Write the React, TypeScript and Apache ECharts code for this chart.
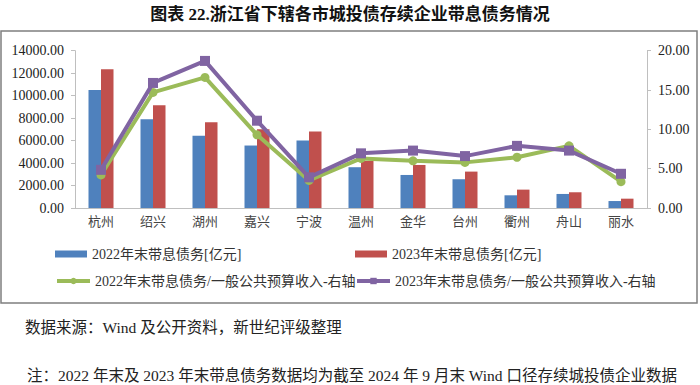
import React, { useEffect, useRef } from "react";
import * as echarts from "echarts";

const cities = ["杭州", "绍兴", "湖州", "嘉兴", "宁波", "温州", "金华", "台州", "衢州", "舟山", "丽水"];
const debt2022 = [10500, 7900, 6420, 5560, 6000, 3630, 2940, 2560, 1130, 1250, 620];
const debt2023 = [12350, 9150, 7640, 7020, 6810, 4190, 3830, 3240, 1635, 1400, 830];
const ratio2022 = [4.2, 14.7, 16.6, 9.3, 3.5, 6.3, 6.0, 5.8, 6.45, 7.9, 3.35];
const ratio2023 = [4.85, 15.9, 18.7, 11.1, 3.9, 6.95, 7.3, 6.6, 7.9, 7.3, 4.35];
const seriesNames = [
  "2022年末带息债务[亿元]",
  "2023年末带息债务[亿元]",
  "2022年末带息债务/一般公共预算收入-右轴",
  "2023年末带息债务/一般公共预算收入-右轴",
];
const titleText = "图表 22.浙江省下辖各市城投债存续企业带息债务情况";
const sourceText = "数据来源：Wind 及公开资料，新世纪评级整理";
const noteText = "注：2022 年末及 2023 年末带息债务数据均为截至 2024 年 9 月末 Wind 口径存续城投债企业数据";

const FONT = '"Liberation Serif", "Noto Sans CJK SC", serif';

export default function App() {
  const ref = useRef<HTMLDivElement>(null);
  useEffect(() => {
    if (!ref.current) return;
    const chart = echarts.init(ref.current, null, { renderer: "svg" });
    const legendText = { fontFamily: FONT, fontSize: 14, color: "#333" };
    const legendBase = { padding: 0, textStyle: legendText };
    chart.setOption({
      animation: false,
      backgroundColor: "#fff",
      textStyle: { fontFamily: FONT },
      grid: { left: 75, right: 53, top: 50.7, bottom: 177 },
      xAxis: {
        type: "category",
        data: cities,
        axisLine: { show: true, lineStyle: { color: "#bfbfbf", width: 1 } },
        axisTick: { show: false },
        axisLabel: { fontFamily: FONT, fontSize: 13, color: "#444", margin: 7 },
      },
      yAxis: [
        {
          type: "value",
          min: 0,
          max: 14000,
          interval: 2000,
          splitLine: { show: false },
          axisLine: { show: true, lineStyle: { color: "#bfbfbf" } },
          axisTick: { show: true, length: 4, lineStyle: { color: "#bfbfbf" } },
          axisLabel: {
            fontFamily: FONT,
            fontSize: 14,
            color: "#222",
            margin: 11,
            formatter: (v: number) => v.toFixed(2),
          },
        },
        {
          type: "value",
          min: 0,
          max: 20,
          interval: 5,
          position: "right",
          splitLine: { show: false },
          axisLine: { show: true, lineStyle: { color: "#bfbfbf" } },
          axisTick: { show: true, length: 4, lineStyle: { color: "#bfbfbf" } },
          axisLabel: {
            fontFamily: FONT,
            fontSize: 14,
            color: "#222",
            margin: 11,
            formatter: (v: number) => v.toFixed(2),
          },
        },
      ],
      legend: [
        {
          ...legendBase,
          data: [seriesNames[0]],
          left: 55,
          top: 247,
          itemWidth: 32,
          itemHeight: 7,
          icon: "rect",
        },
        {
          ...legendBase,
          data: [seriesNames[1]],
          left: 355,
          top: 247,
          itemWidth: 32,
          itemHeight: 7,
          icon: "rect",
        },
        {
          ...legendBase,
          data: [seriesNames[2]],
          left: 55,
          top: 274,
          itemWidth: 33,
          itemHeight: 8,
          lineStyle: { width: 4 },
        },
        {
          ...legendBase,
          data: [seriesNames[3]],
          left: 355,
          top: 274,
          itemWidth: 33,
          itemHeight: 8,
          lineStyle: { width: 4 },
        },
      ],
      series: [
        {
          name: seriesNames[0],
          type: "bar",
          data: debt2022,
          barWidth: 12.5,
          barGap: "0%",
          itemStyle: { color: "#4F81BD" },
        },
        {
          name: seriesNames[1],
          type: "bar",
          data: debt2023,
          barWidth: 12.5,
          barGap: "0%",
          itemStyle: { color: "#C0504D" },
        },
        {
          name: seriesNames[2],
          type: "line",
          yAxisIndex: 1,
          data: ratio2022,
          symbol: "circle",
          symbolSize: 9,
          lineStyle: { color: "#9BBB59", width: 4 },
          itemStyle: { color: "#9BBB59" },
          z: 3,
        },
        {
          name: seriesNames[3],
          type: "line",
          yAxisIndex: 1,
          data: ratio2023,
          symbol: "rect",
          symbolSize: 10,
          lineStyle: { color: "#8064A2", width: 4 },
          itemStyle: { color: "#8064A2" },
          z: 4,
        },
      ],
      graphic: [
        {
          type: "text",
          left: "center",
          top: 6,
          style: {
            text: titleText,
            font: 'bold 17px "Liberation Serif", "Noto Sans CJK SC", serif',
            fill: "#111",
          },
        },
        {
          type: "rect",
          shape: { x: 1, y: 31, width: 696, height: 272 },
          style: { fill: "none", stroke: "#7f7f7f", lineWidth: 1.5 },
          silent: true,
        },
        {
          type: "text",
          x: 25,
          y: 320,
          style: {
            text: sourceText,
            font: '15.5px "Liberation Serif", "Noto Sans CJK SC", serif',
            fill: "#222",
          },
        },
        {
          type: "text",
          x: 27,
          y: 368,
          style: {
            text: noteText,
            font: '15.5px "Liberation Serif", "Noto Sans CJK SC", serif',
            fill: "#222",
          },
        },
      ],
    });
    return () => chart.dispose();
  }, []);
  return (
    <div
      ref={ref}
      style={{ position: "fixed", left: 0, top: 0, width: 700, height: 385, background: "#fff" }}
    />
  );
}
